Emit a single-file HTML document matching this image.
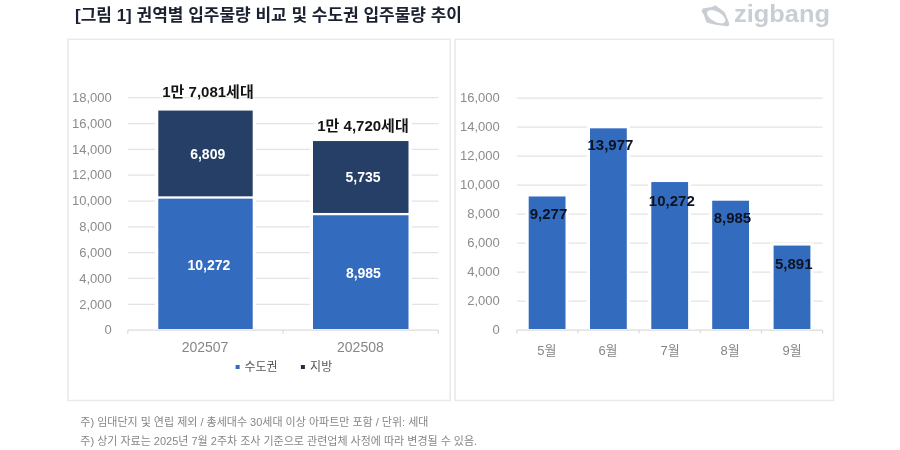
<!DOCTYPE html>
<html lang="ko"><head><meta charset="utf-8"><title>zigbang chart</title>
<style>html,body{margin:0;padding:0;background:#fff}body{width:900px;height:450px;overflow:hidden;font-family:"Liberation Sans","Noto Sans CJK KR",sans-serif}svg{display:block;position:absolute;left:0;top:0;filter:blur(0.45px)}text{font-family:"Liberation Sans","Noto Sans CJK KR",sans-serif}</style></head><body>
<svg role="img" aria-label="[그림 1] 권역별 입주물량 비교 및 수도권 입주물량 추이" width="900" height="450" viewBox="0 0 900 450">
<rect width="900" height="450" fill="#fff"/>
<text x="75" y="21.4" font-size="17" font-weight="bold" fill="#1b2131" text-anchor="start">[그림 1] 권역별 입주물량 비교 및 수도권 입주물량 추이</text>
<g fill="#c9cdd4">
<path d="M701.7 11.3C701.9 9.3 702.6 8.5 704 8.2L712 7L714.6 5.6Q715.4 5.2 716.2 5.8L723.8 11.5Q725.2 12.8 725.9 15.3L728.8 22.2Q729.6 24.6 728.9 25.6Q728.2 26.6 726.6 26.3L716 24.7L709 23.3Q706.4 22.7 705.9 21.2L704.1 15.4Q703.4 13.6 702.3 12.7Q701.6 12.1 701.7 11.3Z"/><ellipse cx="716.2" cy="16.7" rx="10.2" ry="5.0" transform="rotate(30 716.2 16.7)" fill="#fff"/>
<text x="734" y="21.8" font-size="24" font-weight="bold" fill="#c9cdd4" text-anchor="start" textLength="96" lengthAdjust="spacingAndGlyphs">zigbang</text>
</g>
<g fill="none" stroke="#e9e9e9" stroke-width="1.5">
<rect x="67.9" y="39.3" width="382.3" height="361.2"/>
<rect x="455.1" y="39.3" width="378.4" height="361.2"/>
</g>
<g stroke="#e3e3e3" stroke-width="1.25">
<line x1="127.8" y1="304.28" x2="438.4" y2="304.28"/>
<line x1="127.8" y1="278.46" x2="438.4" y2="278.46"/>
<line x1="127.8" y1="252.64" x2="438.4" y2="252.64"/>
<line x1="127.8" y1="226.82" x2="438.4" y2="226.82"/>
<line x1="127.8" y1="201" x2="438.4" y2="201"/>
<line x1="127.8" y1="175.18" x2="438.4" y2="175.18"/>
<line x1="127.8" y1="149.36" x2="438.4" y2="149.36"/>
<line x1="127.8" y1="123.54" x2="438.4" y2="123.54"/>
<line x1="127.8" y1="97.72" x2="438.4" y2="97.72"/>
</g>
<g stroke="#dcdcdc" stroke-width="1.25" fill="none">
<path d="M127.8 330.1 H438.4"/>
<path d="M127.8 330.1 v3.6"/>
<path d="M283.1 330.1 v3.6"/>
<path d="M438.4 330.1 v3.6"/>
</g>
<g fill="#8b8b8b" font-size="13" text-anchor="end">
<text x="111.8" y="334.4">0</text>
<text x="111.8" y="308.58">2,000</text>
<text x="111.8" y="282.76">4,000</text>
<text x="111.8" y="256.94">6,000</text>
<text x="111.8" y="231.12">8,000</text>
<text x="111.8" y="205.3">10,000</text>
<text x="111.8" y="179.48">12,000</text>
<text x="111.8" y="153.66">14,000</text>
<text x="111.8" y="127.84">16,000</text>
<text x="111.8" y="102.02">18,000</text>
</g>
<rect x="155.1" y="108.08" width="100.8" height="220.92" fill="#fff"/>
<rect x="158.3" y="198.64" width="94.4" height="130.36" fill="#336bbf"/>
<rect x="158.3" y="110.58" width="94.4" height="85.75" fill="#263f66"/>
<text x="207.7" y="158.6" font-size="14" font-weight="bold" fill="#fff" text-anchor="middle">6,809</text>
<text x="208.9" y="269.5" font-size="14" font-weight="bold" fill="#fff" text-anchor="middle">10,272</text>
<rect x="309.8" y="138.56" width="101.9" height="190.44" fill="#fff"/>
<rect x="313" y="215.25" width="95.5" height="113.75" fill="#336bbf"/>
<rect x="313" y="141.06" width="95.5" height="71.89" fill="#263f66"/>
<text x="363" y="182.3" font-size="14" font-weight="bold" fill="#fff" text-anchor="middle">5,735</text>
<text x="363.4" y="277.5" font-size="14" font-weight="bold" fill="#fff" text-anchor="middle">8,985</text>
<rect x="159.4" y="83" width="98" height="14.3" fill="#fff"/>
<rect x="314.6" y="116.4" width="97" height="15.4" fill="#fff"/>
<text x="208" y="97.2" font-size="15" font-weight="bold" fill="#141414" text-anchor="middle">1만 7,081세대</text>
<text x="363" y="130.9" font-size="15" font-weight="bold" fill="#141414" text-anchor="middle">1만 4,720세대</text>
<text x="205" y="352.3" font-size="14" fill="#868686" text-anchor="middle">202507</text>
<text x="360.4" y="352.3" font-size="14" fill="#868686" text-anchor="middle">202508</text>
<rect x="235.6" y="365" width="4" height="4" fill="#336bbf"/>
<rect x="300.9" y="365" width="4" height="4" fill="#1f2f50"/>
<text x="244.4" y="371" font-size="12" fill="#575757" text-anchor="start">수도권</text>
<text x="310.1" y="371" font-size="12" fill="#575757" text-anchor="start">지방</text>
<g stroke="#e3e3e3" stroke-width="1.25">
<line x1="516.8" y1="301" x2="822.6" y2="301"/>
<line x1="516.8" y1="272" x2="822.6" y2="272"/>
<line x1="516.8" y1="243" x2="822.6" y2="243"/>
<line x1="516.8" y1="214" x2="822.6" y2="214"/>
<line x1="516.8" y1="185" x2="822.6" y2="185"/>
<line x1="516.8" y1="156" x2="822.6" y2="156"/>
<line x1="516.8" y1="127" x2="822.6" y2="127"/>
<line x1="516.8" y1="98" x2="822.6" y2="98"/>
</g>
<g stroke="#dcdcdc" stroke-width="1.25" fill="none">
<path d="M516.8 330 H822.6"/>
<path d="M516.8 330 v3.6"/>
<path d="M577.96 330 v3.6"/>
<path d="M639.12 330 v3.6"/>
<path d="M700.28 330 v3.6"/>
<path d="M761.44 330 v3.6"/>
<path d="M822.6 330 v3.6"/>
</g>
<g fill="#8b8b8b" font-size="13" text-anchor="end">
<text x="499.8" y="334.3">0</text>
<text x="499.8" y="305.3">2,000</text>
<text x="499.8" y="276.3">4,000</text>
<text x="499.8" y="247.3">6,000</text>
<text x="499.8" y="218.3">8,000</text>
<text x="499.8" y="189.3">10,000</text>
<text x="499.8" y="160.3">12,000</text>
<text x="499.8" y="131.3">14,000</text>
<text x="499.8" y="102.3">16,000</text>
</g>
<rect x="525.6" y="193.98" width="43" height="135.02" fill="#fff"/>
<rect x="528.7" y="196.48" width="36.8" height="132.52" fill="#336bbf"/>
<rect x="586.9" y="125.83" width="43" height="203.17" fill="#fff"/>
<rect x="590" y="128.33" width="36.8" height="200.67" fill="#336bbf"/>
<rect x="648.2" y="179.56" width="43" height="149.44" fill="#fff"/>
<rect x="651.3" y="182.06" width="36.8" height="146.94" fill="#336bbf"/>
<rect x="709.1" y="198.22" width="43" height="130.78" fill="#fff"/>
<rect x="712.2" y="200.72" width="36.8" height="128.28" fill="#336bbf"/>
<rect x="770.5" y="243.08" width="43" height="85.92" fill="#fff"/>
<rect x="773.6" y="245.58" width="36.8" height="83.42" fill="#336bbf"/>
<g fill="#0c1322" font-size="15" font-weight="bold" text-anchor="middle">
<text x="548.5" y="219.1">9,277</text>
<text x="610.45" y="150.4">13,977</text>
<text x="671.8" y="205.6">10,272</text>
<text x="732.45" y="223.1">8,985</text>
<text x="793.75" y="268.5">5,891</text>
</g>
<g fill="#868686" font-size="13" text-anchor="middle">
<text x="546.9" y="355">5월</text>
<text x="608" y="355">6월</text>
<text x="670.2" y="355">7월</text>
<text x="730.2" y="355">8월</text>
<text x="792.2" y="355">9월</text>
</g>
<text x="80.3" y="426" font-size="11" fill="#868686" text-anchor="start">주) 임대단지 및 연립 제외 / 총세대수 30세대 이상 아파트만 포함 / 단위: 세대</text>
<text x="80.3" y="444.8" font-size="11" fill="#868686" text-anchor="start">주) 상기 자료는 2025년 7월 2주차 조사 기준으로 관련업체 사정에 따라 변경될 수 있음.</text>
</svg></body></html>
